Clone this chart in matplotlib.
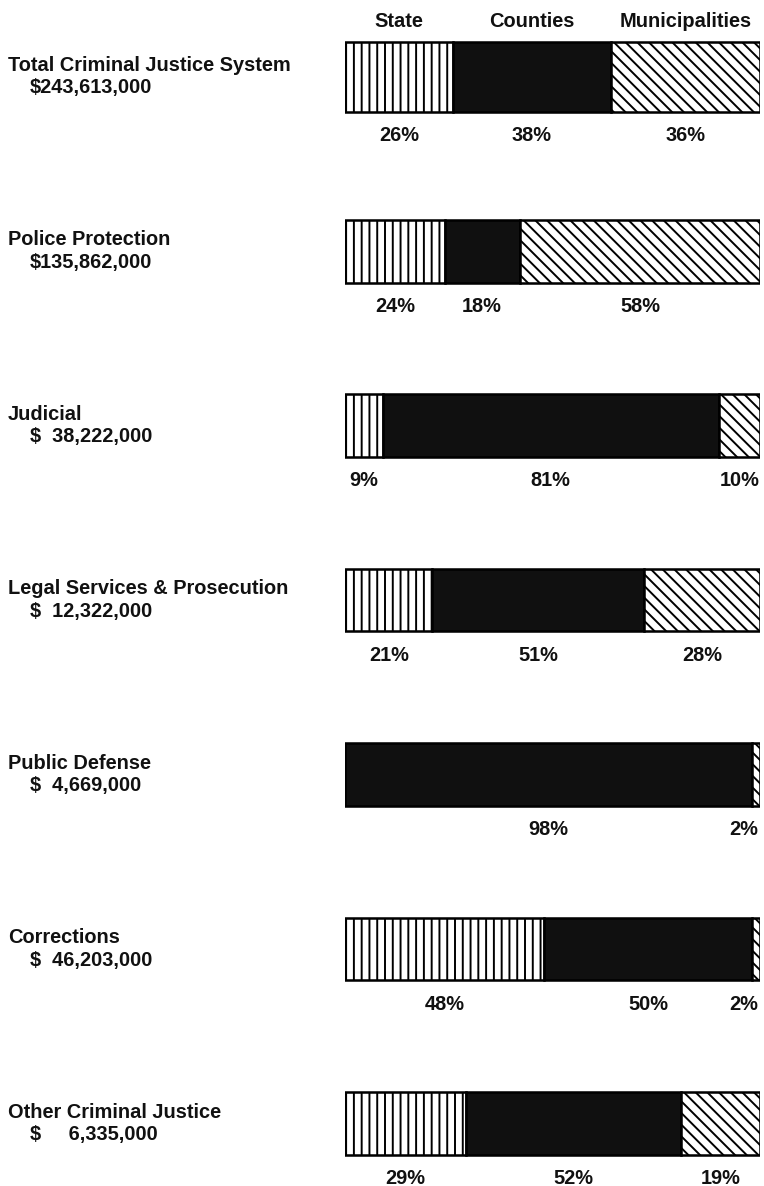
import matplotlib
matplotlib.use("Agg")
import matplotlib.pyplot as plt
import matplotlib.transforms as mtransforms
import numpy as np

# ---------------- data ----------------
categories = ["Total Criminal Justice System", "Police Protection", "Judicial",
              "Legal Services & Prosecution", "Public Defense", "Corrections",
              "Other Criminal Justice"]
amounts = ["$243,613,000", "$135,862,000", "$  38,222,000", "$  12,322,000",
           "$  4,669,000", "$  46,203,000", "$     6,335,000"]
series = ["State", "Counties", "Municipalities"]
state = [26, 24, 9, 21, 0, 48, 29]
counties = [38, 18, 81, 51, 98, 50, 52]
municipalities = [36, 58, 10, 28, 2, 2, 19]

# ---------------- layout ----------------
W, H = 764, 1186
DPI = 140
plt.rcParams["hatch.linewidth"] = 1.0
FONT = "Liberation Sans"
FS = 10.3

fig = plt.figure(figsize=((W + 0.3) / DPI, (H + 0.3) / DPI), dpi=DPI)
fig.patch.set_facecolor("white")
ax = fig.add_axes([345 / W, 0, 415 / W, 1])
ax.set_xlim(0, 100)
row_px, first_px = 174.4, 77.0
ax.set_ylim((H - first_px) / row_px, -first_px / row_px)
ax.axis("off")

styles = [dict(facecolor="white", hatch="|||"),
          dict(facecolor="#101010"),
          dict(facecolor="white", hatch="\\\\\\\\")]

n = len(categories)
y = np.arange(n)
heights = np.array([0.40] + [0.36] * (n - 1))
left = np.zeros(n)
txt = dict(fontfamily=FONT, fontweight="bold", fontsize=FS, color="#111111")

first_centers = []
for vals, st in zip([state, counties, municipalities], styles):
    vals = np.array(vals, dtype=float)
    ax.barh(y, vals, left=left, height=heights, edgecolor="black",
            linewidth=1.3, **st)
    for i, v in enumerate(vals):
        if v <= 0:
            continue
        cx = left[i] + v / 2
        ha = "center"
        if cx > 96.5:
            cx, ha = 99.4, "right"
        ax.text(cx, y[i] + heights[i] / 2 + 0.135, f"{int(v)}%",
                ha=ha, va="center", **txt)
    first_centers.append(left[0] + vals[0] / 2)
    left += vals

# column headers over the first bar's segments
for name, cx in zip(series, first_centers):
    ax.text(cx, -0.32, name, ha="center", va="center", **txt)

# row labels on the left
tr = mtransforms.blended_transform_factory(fig.transFigure, ax.transData)
for i, (cat, amt) in enumerate(zip(categories, amounts)):
    ax.text(8 / W, y[i] - 0.066, cat, transform=tr, ha="left", va="center", **txt)
    ax.text(30 / W, y[i] + 0.062, amt, transform=tr, ha="left", va="center", **txt)

fig.savefig("out.png", dpi=DPI, facecolor="white")
